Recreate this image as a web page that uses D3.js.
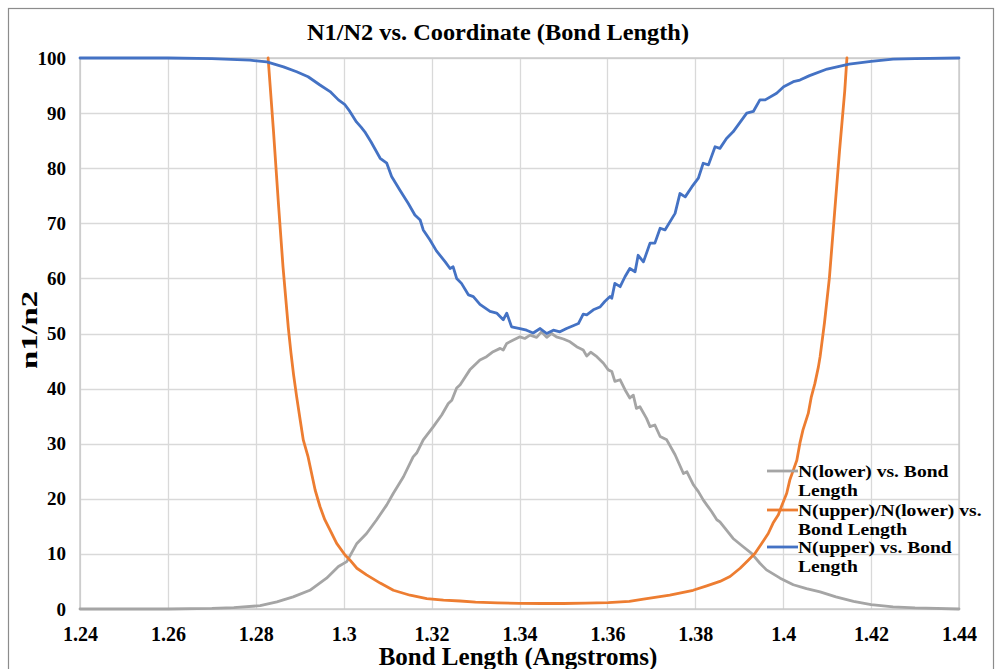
<!DOCTYPE html>
<html>
<head>
<meta charset="utf-8">
<script src="https://cdn.jsdelivr.net/npm/d3@7"></script>
<style>
  body { margin: 0; background: #fff; }
  svg text { font-family: "Liberation Serif", "Times New Roman", serif; font-weight: bold; fill: #000; }
</style>
</head>
<body>
<div id="chart"></div>
<script>
// bond length ticks
const xTicks = [1.24, 1.26, 1.28, 1.30, 1.32, 1.34, 1.36, 1.38, 1.40, 1.42, 1.44]
const yTicks = [0, 10, 20, 30, 40, 50, 60, 70, 80, 90, 100]

// N(lower) vs. bond length
const lowerX = [1.240, 1.260, 1.270, 1.275, 1.2810, 1.2848, 1.2885, 1.2923, 1.2961, 1.2988, 1.3007, 1.3030, 1.3052, 1.3075, 1.3098, 1.3113, 1.3136, 1.3158, 1.3166, 1.3181, 1.3204, 1.3223, 1.3238, 1.3246, 1.3257, 1.3265, 1.3287, 1.3310, 1.3325, 1.3340, 1.3356, 1.3363, 1.3371, 1.3386, 1.3401, 1.3412, 1.3424, 1.3439, 1.3450, 1.3462, 1.3473, 1.3484, 1.3500, 1.3515, 1.3530, 1.3545, 1.3553, 1.3562, 1.3576, 1.3591, 1.3602, 1.3610, 1.3617, 1.3629, 1.3640, 1.3651, 1.3659, 1.3666, 1.3674, 1.3689, 1.3697, 1.3708, 1.3720, 1.3735, 1.3754, 1.3773, 1.3781, 1.3796, 1.3807, 1.3818, 1.3826, 1.3837, 1.3849, 1.3856, 1.3871, 1.3886, 1.3909, 1.3928, 1.3947, 1.3962, 1.3993, 1.4023, 1.4053, 1.4084, 1.4120, 1.4160, 1.4200, 1.4250, 1.4300, 1.4400]
const lowerY = [0, 0, 0.1, 0.25, 0.6, 1.3, 2.2, 3.4, 5.6, 7.7, 8.6, 11.9, 13.7, 16.2, 18.9, 21.0, 24.0, 27.6, 28.3, 30.7, 33.1, 35.2, 37.3, 37.9, 40.1, 40.7, 43.4, 45.2, 45.8, 46.7, 47.3, 47.0, 48.2, 48.8, 49.4, 49.1, 49.7, 49.3, 50.3, 49.3, 50.0, 49.4, 49.0, 48.5, 47.6, 47.0, 45.9, 46.6, 45.8, 44.6, 43.4, 43.1, 41.3, 41.6, 39.8, 38.3, 38.8, 36.4, 36.7, 34.6, 33.1, 33.4, 31.3, 30.7, 28.0, 24.6, 24.9, 22.5, 21.3, 19.8, 18.9, 17.7, 16.2, 15.8, 14.3, 12.8, 11.3, 10.1, 8.3, 7.1, 5.6, 4.4, 3.7, 3.1, 2.2, 1.4, 0.8, 0.4, 0.2, 0]

// N(upper)/N(lower) vs. bond length
const ratioX = [1.2828, 1.2840, 1.2852, 1.2862, 1.2874, 1.2880, 1.2886, 1.2893, 1.2901, 1.2908, 1.2919, 1.2927, 1.2935, 1.2946, 1.2957, 1.2969, 1.2984, 1.3003, 1.3014, 1.3030, 1.3052, 1.3083, 1.3113, 1.3151, 1.3189, 1.3227, 1.3265, 1.3300, 1.3350, 1.3400, 1.3450, 1.3500, 1.3550, 1.3602, 1.3650, 1.3682, 1.3742, 1.3795, 1.3826, 1.3856, 1.3879, 1.3902, 1.3921, 1.3936, 1.3951, 1.3966, 1.3977, 1.3989, 1.3996, 1.4008, 1.4015, 1.4023, 1.4031, 1.4038, 1.4045, 1.4057, 1.4064, 1.4072, 1.4080, 1.4084, 1.4094, 1.4105, 1.4117, 1.4128, 1.4140, 1.4145]
const ratioY = [100, 87, 73, 62, 51, 46.5, 42.5, 38.5, 34.3, 30.7, 27.6, 24.6, 21.6, 18.6, 16.2, 14.3, 11.9, 9.8, 8.9, 7.4, 6.2, 4.7, 3.4, 2.5, 1.9, 1.6, 1.45, 1.25, 1.1, 1.02, 1.0, 1.0, 1.08, 1.15, 1.4, 1.8, 2.5, 3.4, 4.2, 5.0, 5.9, 7.4, 8.9, 10.1, 11.9, 13.7, 15.6, 17.1, 18.6, 21.0, 23.4, 25.2, 27.0, 30.1, 32.5, 35.5, 38.5, 40.9, 43.9, 45.8, 52, 60, 72, 83, 94, 100]

// N(upper) vs. bond length
const upperX = [1.240, 1.250, 1.260, 1.270, 1.2787, 1.2825, 1.2863, 1.2893, 1.2919, 1.2946, 1.2969, 1.2988, 1.3002, 1.3014, 1.3029, 1.3040, 1.3048, 1.3062, 1.3083, 1.3098, 1.3109, 1.3128, 1.3147, 1.3162, 1.3174, 1.3181, 1.3196, 1.3211, 1.3231, 1.3242, 1.3249, 1.3257, 1.3268, 1.3284, 1.3295, 1.3310, 1.3333, 1.3348, 1.3363, 1.3371, 1.3382, 1.3401, 1.3416, 1.3431, 1.3447, 1.3462, 1.3477, 1.3492, 1.3507, 1.3522, 1.3534, 1.3545, 1.3553, 1.3568, 1.3583, 1.3594, 1.3606, 1.3610, 1.3617, 1.3629, 1.3640, 1.3651, 1.3663, 1.3670, 1.3682, 1.3697, 1.3708, 1.3720, 1.3731, 1.3754, 1.3765, 1.3777, 1.3792, 1.3807, 1.3818, 1.3830, 1.3845, 1.3856, 1.3871, 1.3886, 1.3917, 1.3932, 1.3947, 1.3959, 1.3985, 1.4001, 1.4023, 1.4038, 1.4060, 1.4100, 1.4150, 1.4200, 1.4250, 1.4300, 1.4400]
const upperY = [100, 100, 100, 99.9, 99.6, 99.3, 98.4, 97.5, 96.6, 95.1, 93.9, 92.4, 91.6, 90.3, 88.4, 87.4, 86.6, 84.8, 81.8, 80.9, 78.5, 76.0, 73.6, 71.5, 70.6, 68.8, 67.0, 65.0, 63.0, 61.8, 62.1, 60.0, 59.1, 57.0, 56.7, 55.3, 54.0, 53.7, 52.5, 53.7, 51.2, 50.9, 50.6, 50.1, 50.9, 50.0, 50.6, 50.3, 50.9, 51.4, 51.8, 53.5, 53.4, 54.3, 54.8, 55.8, 56.7, 56.4, 59.1, 58.5, 60.3, 61.8, 61.2, 64.2, 63.0, 66.4, 66.4, 69.1, 68.8, 71.8, 75.4, 74.8, 76.6, 78.2, 80.9, 80.6, 83.9, 83.6, 85.4, 86.6, 90.0, 90.3, 92.4, 92.4, 93.6, 94.8, 95.7, 96.0, 96.8, 98.0, 98.9, 99.4, 99.8, 99.9, 100]

const seriesNames = ['N(lower) vs. Bond Length', 'N(upper)/N(lower) vs. Bond Length', 'N(upper) vs. Bond Length']
const legendLines = [['N(lower) vs. Bond', 'Length'], ['N(upper)/N(lower) vs.', 'Bond Length'], ['N(upper) vs. Bond', 'Length']]
const colors = ['#a5a5a5', '#ed7d31', '#4472c4']

const width = 995, height = 669

const svg = d3.select('#chart').append('svg')
.attr('width', width)
.attr('height', height)

// outer frame
svg.append('rect')
.attr('x', 8.5).attr('y', 8.5)
.attr('width', 985).attr('height', 700)
.attr('fill', 'none')
.attr('stroke', '#8c8c8c')
.attr('stroke-width', 1.2)

const x = d3.scaleLinear().domain([1.24, 1.44]).range([80, 959])
const y = d3.scaleLinear().domain([0, 100]).range([609, 58])

// gridlines
svg.append('g')
.selectAll('line')
.data(xTicks)
.enter().append('line')
.attr('x1', d => Math.round(x(d)) + 0.5).attr('x2', d => Math.round(x(d)) + 0.5)
.attr('y1', y(0)).attr('y2', y(100))
.attr('stroke', '#d9d9d9').attr('stroke-width', 1.3)

svg.append('g')
.selectAll('line')
.data(yTicks)
.enter().append('line')
.attr('y1', d => Math.round(y(d)) + 0.5).attr('y2', d => Math.round(y(d)) + 0.5)
.attr('x1', x(1.24)).attr('x2', x(1.44))
.attr('stroke', '#d9d9d9').attr('stroke-width', 1.3)

// axis borders
svg.append('rect')
.attr('x', x(1.24)).attr('y', y(100))
.attr('width', x(1.44) - x(1.24)).attr('height', y(0) - y(100))
.attr('fill', 'none').attr('stroke', '#c6c6c6').attr('stroke-width', 1.3)

// tick labels via axes
const xAxis = svg.append('g')
.attr('transform', `translate(0,${y(0)})`)
.call(d3.axisBottom(x).tickValues(xTicks).tickSize(0).tickPadding(0).tickFormat(d => String(+d.toFixed(2))))
xAxis.select('.domain').remove()
xAxis.selectAll('text')
.attr('y', 32).attr('dy', 0)
.style('font-size', '20px')
.style('font-family', '"Liberation Serif", serif')
.style('font-weight', 'bold')

const yAxis = svg.append('g')
.attr('transform', `translate(${x(1.24)},0)`)
.call(d3.axisLeft(y).tickValues(yTicks).tickSize(0).tickPadding(0))
yAxis.select('.domain').remove()
yAxis.selectAll('text')
.attr('x', -14).attr('dy', 6)
.style('font-size', '19px')
.style('font-family', '"Liberation Serif", serif')
.style('font-weight', 'bold')

// series
svg.append('clipPath').attr('id', 'plot-clip')
.append('rect')
.attr('x', x(1.24) - 2).attr('y', y(100) - 2)
.attr('width', x(1.44) - x(1.24) + 4).attr('height', y(0) - y(100) + 4)

const line = d3.line()
.x(d => x(d[0]))
.y(d => y(d[1]))

const series = [
	d3.zip(lowerX, lowerY),
	d3.zip(ratioX, ratioY),
	d3.zip(upperX, upperY)
]

svg.append('g')
.attr('clip-path', 'url(#plot-clip)')
.selectAll('path')
.data(series)
.enter().append('path')
.attr('d', line)
.attr('fill', 'none')
.attr('stroke', (d, i) => colors[i])
.attr('stroke-width', 2.8)
.attr('stroke-linejoin', 'round')
.attr('stroke-linecap', 'round')
.append('title').text((d, i) => seriesNames[i])

// title + axis titles
svg.append('text')
.attr('x', 498).attr('y', 40)
.attr('text-anchor', 'middle')
.attr('textLength', 382)
.attr('lengthAdjust', 'spacingAndGlyphs')
.style('font-size', '24px')
.text('N1/N2 vs. Coordinate (Bond Length)')

svg.append('text')
.attr('x', 518).attr('y', 665)
.attr('text-anchor', 'middle')
.style('font-size', '25px')
.text('Bond Length (Angstroms)')

svg.append('text')
.attr('transform', 'translate(37,330) rotate(-90)')
.attr('text-anchor', 'middle')
.attr('textLength', 78)
.attr('lengthAdjust', 'spacingAndGlyphs')
.style('font-size', '23px')
.text('n1/n2')

// legend
const legend = svg.append('g')
const legendTop = [471, 510, 547]

legendLines.forEach((lines, i) => {
	legend.append('line')
	.attr('x1', 767).attr('x2', 798)
	.attr('y1', legendTop[i]).attr('y2', legendTop[i])
	.attr('stroke', colors[i]).attr('stroke-width', 2.8)

	lines.forEach((t, j) => {
		let txt = legend.append('text')
		.attr('x', 798)
		.attr('y', legendTop[i] + 6 + j * 19)
		.style('font-size', '17px')
		.text(t)
		// stretch back to the width the legend has in the reference
		let w = txt.node().getComputedTextLength()
		txt.attr('textLength', w * 1.15).attr('lengthAdjust', 'spacingAndGlyphs')
	})
})
</script>
</body>
</html>
